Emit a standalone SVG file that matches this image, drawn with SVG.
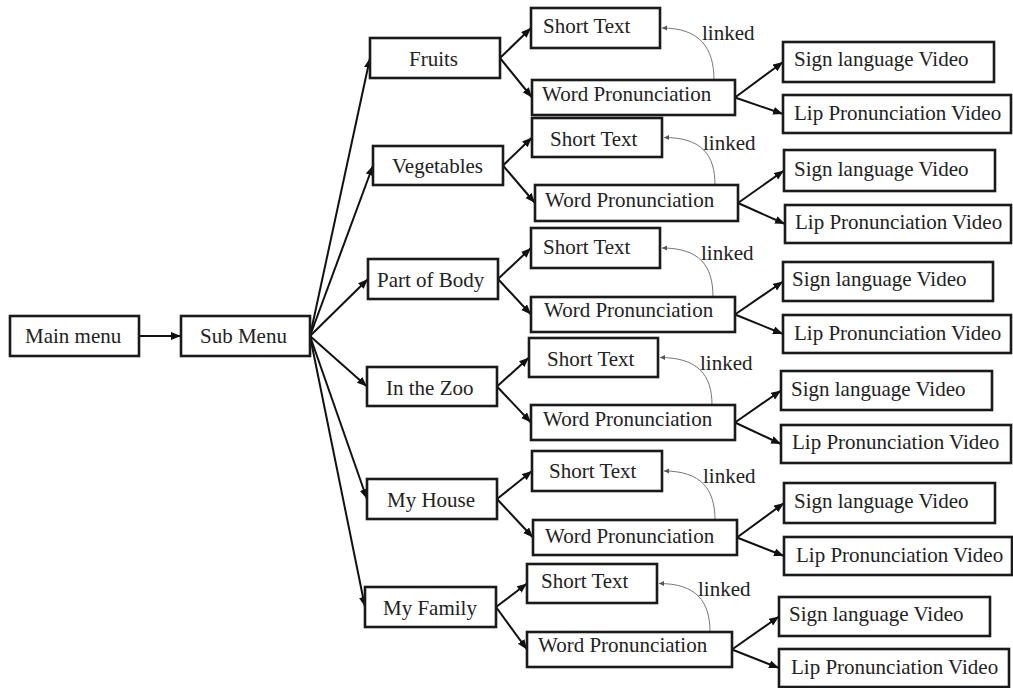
<svg xmlns="http://www.w3.org/2000/svg" width="1013" height="688" viewBox="0 0 1013 688">
<defs>
<marker id="ah" markerUnits="userSpaceOnUse" markerWidth="11" markerHeight="9" refX="10" refY="4" orient="auto">
<path d="M0,0 L10,4 L0,8 z" fill="#111"/>
</marker>
<marker id="ahs" markerUnits="userSpaceOnUse" markerWidth="6" markerHeight="6" refX="5" refY="2.5" orient="auto">
<path d="M0,0 L5,2.5 L0,5 z" fill="#555"/>
</marker>
</defs>
<style>
rect{fill:#fff;stroke:#1a1a1a;stroke-width:2.6}
text{font-family:"Liberation Serif","Times New Roman",serif;font-size:21px;fill:#222}
.c{fill:none;stroke:#111;stroke-width:2;marker-end:url(#ah)}
.l{fill:none;stroke:#777;stroke-width:1;marker-end:url(#ahs)}
</style>
<rect x="0" y="0" width="1013" height="688" style="fill:#fff;stroke:none"/>
<g id="connectors">
<path class="c" d="M139,336 L181,336"/>
<path class="c" d="M310,336 L370,58"/>
<path class="c" d="M310,336 L373,165.5"/>
<path class="c" d="M310,336 L368,279"/>
<path class="c" d="M310,336 L367,386.5"/>
<path class="c" d="M310,336 L367,499"/>
<path class="c" d="M310,336 L365,607"/>
<path class="c" d="M500,58 L531,28"/>
<path class="c" d="M500,58 L532,97.5"/>
<path class="c" d="M735,97.5 L783,62"/>
<path class="c" d="M735,97.5 L783,114"/>
<path class="c" d="M503,165.5 L532,137.5"/>
<path class="c" d="M503,165.5 L535,203"/>
<path class="c" d="M738,203 L784,170.5"/>
<path class="c" d="M738,203 L785,224"/>
<path class="c" d="M498,279 L531,248"/>
<path class="c" d="M498,279 L531,314.5"/>
<path class="c" d="M735,314.5 L783,281.5"/>
<path class="c" d="M735,314.5 L783,334"/>
<path class="c" d="M497,386.5 L529,357.5"/>
<path class="c" d="M497,386.5 L531,422.5"/>
<path class="c" d="M735,422.5 L781,390.5"/>
<path class="c" d="M735,422.5 L781,444"/>
<path class="c" d="M497,499 L532,471"/>
<path class="c" d="M497,499 L533,537.5"/>
<path class="c" d="M737,537.5 L784,503"/>
<path class="c" d="M737,537.5 L784,556"/>
<path class="c" d="M496,607 L527,583.5"/>
<path class="c" d="M496,607 L527,649.5"/>
<path class="c" d="M732,649.5 L779,616.5"/>
<path class="c" d="M732,649.5 L779,668"/>
<path class="l" d="M714,80 C714,48 700,28 662,28"/>
<path class="l" d="M715,185 C715,155 702,137.5 664,137.5"/>
<path class="l" d="M713,297 C713,266 700,248 662,248"/>
<path class="l" d="M712,405 C712,375 698,357.5 660,357.5"/>
<path class="l" d="M715,520 C715,489 701,471 664,471"/>
<path class="l" d="M710,632 C710,601 696,583.5 659,583.5"/>
</g>
<g id="main"><rect x="10" y="316" width="129" height="40"/><text x="25" y="343">Main menu</text></g>
<g id="sub"><rect x="181" y="316" width="129" height="40"/><text x="200" y="343">Sub Menu</text></g>

<g id="fruits"><rect x="370" y="38" width="130" height="40"/><text x="409" y="66">Fruits</text></g>
<g id="fruits-short"><rect x="531" y="8" width="129" height="40"/><text x="543" y="33">Short Text</text></g>
<g id="fruits-word"><rect x="532" y="80" width="203" height="35"/><text x="542" y="101">Word Pronunciation</text></g>
<g id="fruits-sign"><rect x="783" y="42" width="211" height="40"/><text x="794" y="66">Sign language Video</text></g>
<g id="fruits-lip"><rect x="783" y="95" width="228" height="38"/><text x="794" y="120">Lip Pronunciation Video</text></g>
<text x="702" y="40">linked</text>

<g id="veg"><rect x="373" y="146" width="130" height="39"/><text x="392" y="173">Vegetables</text></g>
<g id="veg-short"><rect x="532" y="118" width="130" height="39"/><text x="550" y="146">Short Text</text></g>
<g id="veg-word"><rect x="535" y="185" width="203" height="36"/><text x="545" y="207">Word Pronunciation</text></g>
<g id="veg-sign"><rect x="784" y="150" width="211" height="41"/><text x="794" y="176">Sign language Video</text></g>
<g id="veg-lip"><rect x="785" y="205" width="226" height="38"/><text x="795" y="229">Lip Pronunciation Video</text></g>
<text x="703" y="150">linked</text>

<g id="body"><rect x="368" y="259" width="130" height="40"/><text x="377" y="287">Part of Body</text></g>
<g id="body-short"><rect x="531" y="228" width="129" height="40"/><text x="543" y="254">Short Text</text></g>
<g id="body-word"><rect x="531" y="297" width="204" height="35"/><text x="544" y="317">Word Pronunciation</text></g>
<g id="body-sign"><rect x="783" y="262" width="210" height="39"/><text x="792" y="286">Sign language Video</text></g>
<g id="body-lip"><rect x="783" y="315" width="228" height="38"/><text x="794" y="340">Lip Pronunciation Video</text></g>
<text x="701" y="260">linked</text>

<g id="zoo"><rect x="367" y="367" width="130" height="39"/><text x="386" y="395">In the Zoo</text></g>
<g id="zoo-short"><rect x="529" y="338" width="129" height="39"/><text x="547" y="366">Short Text</text></g>
<g id="zoo-word"><rect x="531" y="405" width="204" height="35"/><text x="543" y="426">Word Pronunciation</text></g>
<g id="zoo-sign"><rect x="781" y="371" width="211" height="39"/><text x="791" y="396">Sign language Video</text></g>
<g id="zoo-lip"><rect x="781" y="425" width="230" height="38"/><text x="792" y="449">Lip Pronunciation Video</text></g>
<text x="700" y="370">linked</text>

<g id="house"><rect x="367" y="479" width="130" height="40"/><text x="387" y="507">My House</text></g>
<g id="house-short"><rect x="532" y="451" width="130" height="40"/><text x="549" y="478">Short Text</text></g>
<g id="house-word"><rect x="533" y="520" width="204" height="35"/><text x="545" y="543">Word Pronunciation</text></g>
<g id="house-sign"><rect x="784" y="483" width="211" height="40"/><text x="794" y="508">Sign language Video</text></g>
<g id="house-lip"><rect x="784" y="537" width="228" height="38"/><text x="796" y="562">Lip Pronunciation Video</text></g>
<text x="703" y="483">linked</text>

<g id="family"><rect x="365" y="587" width="131" height="40"/><text x="383" y="615">My Family</text></g>
<g id="family-short"><rect x="527" y="564" width="130" height="39"/><text x="541" y="588">Short Text</text></g>
<g id="family-word"><rect x="527" y="632" width="205" height="35"/><text x="538" y="652">Word Pronunciation</text></g>
<g id="family-sign"><rect x="779" y="597" width="211" height="39"/><text x="789" y="621">Sign language Video</text></g>
<g id="family-lip"><rect x="779" y="649" width="230" height="38"/><text x="791" y="674">Lip Pronunciation Video</text></g>
<text x="698" y="596">linked</text>
</svg>
